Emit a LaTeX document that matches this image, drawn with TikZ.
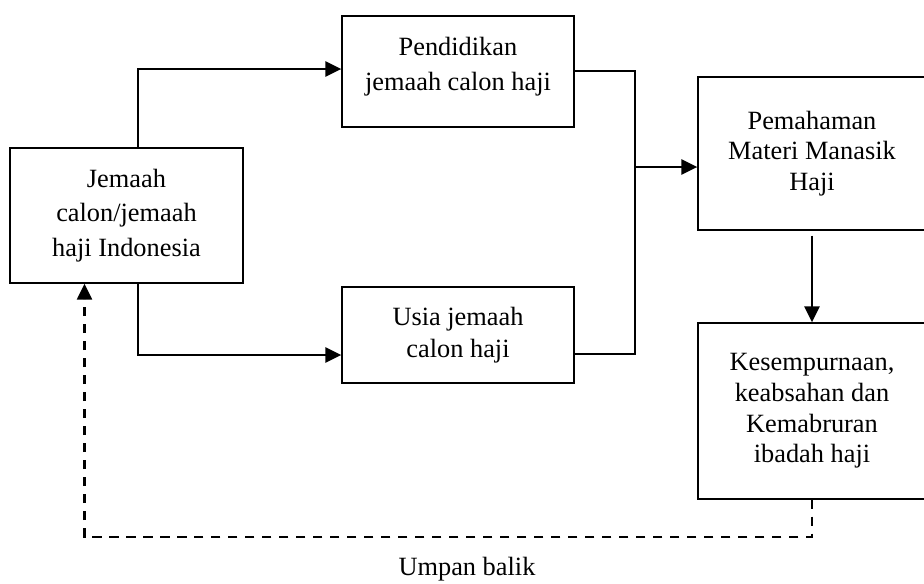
\documentclass[tikz,border=0pt]{standalone}
\usepackage{fontspec}
\setmainfont{Liberation Serif}
\usetikzlibrary{arrows.meta,positioning}

\tikzset{
	kotak/.style={draw,line width=0.75pt,inner sep=0pt,align=center,font=\fontsize{15pt}{19.5pt}\selectfont},
	kotakkanan/.style={kotak,font=\fontsize{15pt}{17.4pt}\selectfont},
	panah/.style={line width=1.4pt,-{Triangle[length=0.32cm,width=0.3cm]}},
	garis/.style={line width=1pt},
	putus/.style={line width=1.3pt,dash pattern=on 0.19cm off 0.15cm,-{Triangle[length=0.32cm,width=0.3cm]}}
}

\begin{document}
\begin{tikzpicture}[x=0.02cm,y=-0.02cm]
			\useasboundingbox (0,0) rectangle (924,583);

			\node[kotak,minimum width=4.66cm,minimum height=2.7cm] (jemaah) at (126.5,215.5) {Jemaah\\calon/jemaah\\haji Indonesia};

			\node[kotak,minimum width=4.64cm,minimum height=2.22cm] (pendidikan) at (458,71.5) {Pendidikan\\jemaah calon haji\\[-0.38cm]\mbox{}};

			\node[kotak,minimum width=4.64cm,minimum height=1.92cm,font=\fontsize{15pt}{18.3pt}\selectfont] (usia) at (458,335) {Usia jemaah\\calon haji};

			\node[kotakkanan,minimum width=4.56cm,minimum height=3.06cm] (pemahaman) at (812,153.5) {Pemahaman\\Materi Manasik\\Haji};

			\node[kotakkanan,minimum width=4.56cm,minimum height=3.52cm] (kesempurnaan) at (812,411) {Kesempurnaan,\\keabsahan dan\\Kemabruran\\ibadah haji};

			\node[font=\fontsize{15pt}{18pt}\selectfont] (umpan) at (467,569) {Umpan balik};

			\coordinate (kumpul) at (635,167);
			\coordinate (balik) at (84.5,537);

			\draw[panah] ([xshift=0.23cm]jemaah.north) |- ([yshift=0.05cm]pendidikan.west);
			\draw[panah] ([xshift=0.23cm]jemaah.south) |- ([yshift=-0.4cm]usia.west);
			\draw[garis] ([yshift=0.01cm]pendidikan.east) -| (kumpul) |- ([yshift=-0.38cm]usia.east);
			\draw[panah] (kumpul) -- (kumpul -| pemahaman.west);
			\draw[panah] ([yshift=-0.1cm]pemahaman.south) -- (kesempurnaan.north);
			\draw[putus] (kesempurnaan.south) |- (balik) -- (balik |- jemaah.south);
\end{tikzpicture}
\end{document}
